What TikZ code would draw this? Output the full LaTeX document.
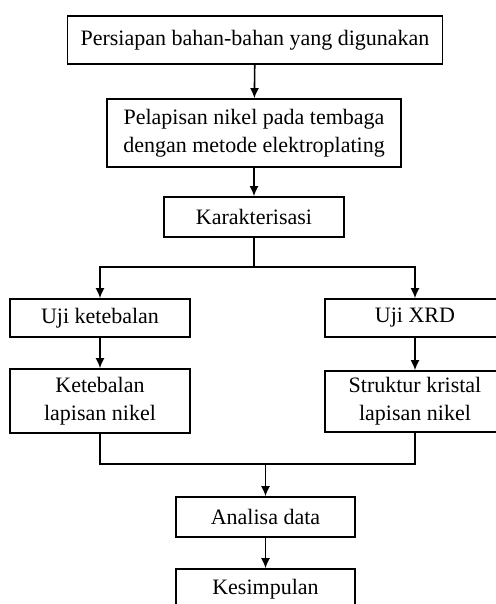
\documentclass[tikz,border=0pt]{standalone}
\usepackage{fontspec}
\setmainfont{Liberation Serif}
\usetikzlibrary{arrows.meta,positioning}

\tikzset{
  kotak/.style={draw=black, line width=0.8pt, fill=white, inner sep=0pt, align=center,
    font=\fontsize{11}{14}\selectfont},
  panah/.style={line width=0.8pt, -{Latex[length=5pt,width=4.5pt]}},
  garis/.style={line width=0.8pt}
}

\begin{document}
\begin{tikzpicture}[x=0.5pt,y=-0.5pt]

\useasboundingbox (0,0) rectangle (496,604);
\clip (0,0) rectangle (496,604);

  \node[kotak,minimum width=187.5pt,minimum height=24pt] (persiapan) at (255,40) {Persiapan bahan-bahan yang digunakan};
  \node[kotak,minimum width=147pt,minimum height=34pt] (pelapisan) at (254,133) {Pelapisan nikel pada tembaga\\dengan metode elektroplating};
  \node[kotak,minimum width=90pt,minimum height=20pt] (karakter) at (254,217) {Karakterisasi};

  \node[kotak,minimum width=90pt,minimum height=19pt] (ujitebal) at (100,318) {Uji ketebalan};
  \node[kotak,minimum width=90pt,minimum height=19pt] (ujixrd) at (415,318) {Uji XRD};
  \node[kotak,minimum width=90pt,minimum height=32pt] (tebal) at (100,401) {Ketebalan\\lapisan nikel};
  \node[kotak,minimum width=90pt,minimum height=30.5pt] (kristal) at (415,401.5) {Struktur kristal\\lapisan nikel};

  \node[kotak,minimum width=89.5pt,minimum height=20pt] (analisa) at (265.5,517) {Analisa data};
  \node[kotak,minimum width=89.5pt,minimum height=20pt] (simpul) at (265.5,589) {Kesimpulan};

  \coordinate (cabang) at (254,267);
  \coordinate (gabung) at (265.5,464);

  \draw[panah] (persiapan) -- (pelapisan);
  \draw[panah] (pelapisan) -- (karakter);
  \draw[garis] (karakter) -- (cabang);
  \draw[panah] (cabang) -| (ujitebal);
  \draw[panah] (cabang) -| (ujixrd);
  \draw[panah] (ujitebal) -- (tebal);
  \draw[panah] (ujixrd) -- (kristal);
  \draw[garis] (tebal) |- (gabung) -| (kristal);
  \draw[panah] (gabung) -- (analisa);
  \draw[panah] (analisa) -- (simpul);

\end{tikzpicture}
\end{document}
